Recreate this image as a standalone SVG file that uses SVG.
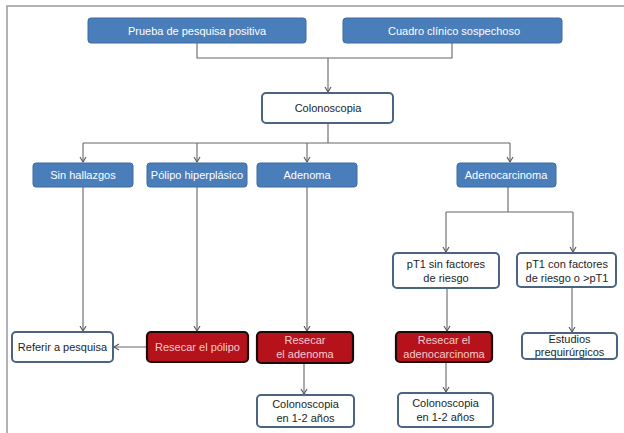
<svg xmlns="http://www.w3.org/2000/svg" width="624" height="433" viewBox="0 0 624 433">
<defs>
<marker id="arr" markerWidth="8" markerHeight="8" refX="6" refY="4" orient="auto" markerUnits="userSpaceOnUse">
<path d="M1,1 L6,4 L1,7" fill="none" stroke="#555" stroke-width="1.1"/>
</marker>
<style>
.blue{fill:#4a7ebb;stroke:#3c6a9e;stroke-width:1}
.white{fill:#ffffff;stroke:#4c6484;stroke-width:2}
.red{fill:#b5121b;stroke:#1a0a0a;stroke-width:2.2}
text{font-family:"Liberation Sans","Open Sans",Arial,sans-serif;font-size:11px;text-anchor:middle}
.tw{fill:#ffffff}
.td{fill:#1e1e1e}
.tr{fill:#f4cccc}
.c{fill:none;stroke:#666;stroke-width:1.1}
.frame{fill:none;stroke:#9a9a9a;stroke-width:1.5}
</style>
</defs>
<path class="frame" d="M7,433 V6 H624"/>
<g id="connectors">
<path class="c" d="M197,43 V58 H452 V43"/>
<path class="c" d="M328,58 V92" marker-end="url(#arr)"/>
<path class="c" d="M328,123 V143"/>
<path class="c" d="M83,143 H510"/>
<path class="c" d="M83,143 V162" marker-end="url(#arr)"/>
<path class="c" d="M197,143 V162" marker-end="url(#arr)"/>
<path class="c" d="M307,143 V162" marker-end="url(#arr)"/>
<path class="c" d="M510,143 V162" marker-end="url(#arr)"/>
<path class="c" d="M83,187 V331" marker-end="url(#arr)"/>
<path class="c" d="M197,187 V331" marker-end="url(#arr)"/>
<path class="c" d="M307,187 V331" marker-end="url(#arr)"/>
<path class="c" d="M508,187 V212"/>
<path class="c" d="M446,212 H573"/>
<path class="c" d="M446,212 V252" marker-end="url(#arr)"/>
<path class="c" d="M573,212 V252" marker-end="url(#arr)"/>
<path class="c" d="M447,288 V331" marker-end="url(#arr)"/>
<path class="c" d="M572,287 V332" marker-end="url(#arr)"/>
<path class="c" d="M147,347 H114" marker-end="url(#arr)"/>
<path class="c" d="M304,363 V394" marker-end="url(#arr)"/>
<path class="c" d="M446,362 V392" marker-end="url(#arr)"/>
</g>
<g id="prueba"><rect class="blue" x="88" y="18" width="218" height="25" rx="3"/><text class="tw" x="197" y="34.5">Prueba de pesquisa positiva</text></g>
<g id="cuadro"><rect class="blue" x="343" y="18" width="219" height="25" rx="3"/><text class="tw" x="454" y="34.5">Cuadro clínico sospechoso</text></g>
<g id="colonoscopia"><rect class="white" x="262" y="93" width="131" height="30" rx="4"/><text class="td" x="328" y="112">Colonoscopia</text></g>
<g id="sin-hallazgos"><rect class="blue" x="33" y="163" width="100" height="24" rx="3"/><text class="tw" x="83" y="179">Sin hallazgos</text></g>
<g id="polipo"><rect class="blue" x="147" y="163" width="100" height="24" rx="3"/><text class="tw" x="197" y="179">Pólipo hiperplásico</text></g>
<g id="adenoma"><rect class="blue" x="257" y="163" width="100" height="24" rx="3"/><text class="tw" x="307" y="179">Adenoma</text></g>
<g id="adenocarcinoma"><rect class="blue" x="457" y="163" width="99" height="24" rx="3"/><text class="tw" x="506" y="179">Adenocarcinoma</text></g>
<g id="pt1-sin"><rect class="white" x="393" y="253" width="106" height="35" rx="4"/><text class="td" x="446" y="268">pT1 sin factores</text><text class="td" x="446" y="282">de riesgo</text></g>
<g id="pt1-con"><rect class="white" x="517" y="253" width="99" height="34" rx="4"/><text class="td" x="567" y="268">pT1 con factores</text><text class="td" x="567" y="282">de riesgo o &gt;pT1</text></g>
<g id="referir"><rect class="white" x="12" y="332" width="101" height="30" rx="4"/><text class="td" x="62.5" y="351">Referir a pesquisa</text></g>
<g id="resecar-polipo"><rect class="red" x="147" y="332" width="101" height="30" rx="4"/><text class="tr" x="197.5" y="351">Resecar el pólipo</text></g>
<g id="resecar-adenoma"><rect class="red" x="257" y="332" width="96" height="31" rx="4"/><text class="tr" x="305" y="344">Resecar</text><text class="tr" x="305" y="358">el adenoma</text></g>
<g id="resecar-adenocarcinoma"><rect class="red" x="396" y="332" width="96" height="30" rx="4"/><text class="tr" x="444" y="344">Resecar el</text><text class="tr" x="444" y="358">adenocarcinoma</text></g>
<g id="estudios"><rect class="white" x="522" y="333" width="95" height="26" rx="4"/><text class="td" x="569.5" y="343">Estudios</text><text class="td" x="569.5" y="356">prequirúrgicos</text></g>
<g id="colono-adenoma"><rect class="white" x="257" y="395" width="97" height="32" rx="4"/><text class="td" x="305.5" y="408">Colonoscopia</text><text class="td" x="305.5" y="422">en 1-2 años</text></g>
<g id="colono-adenocarcinoma"><rect class="white" x="398" y="393" width="95" height="34" rx="4"/><text class="td" x="445.5" y="407">Colonoscopia</text><text class="td" x="445.5" y="421">en 1-2 años</text></g>
</svg>
